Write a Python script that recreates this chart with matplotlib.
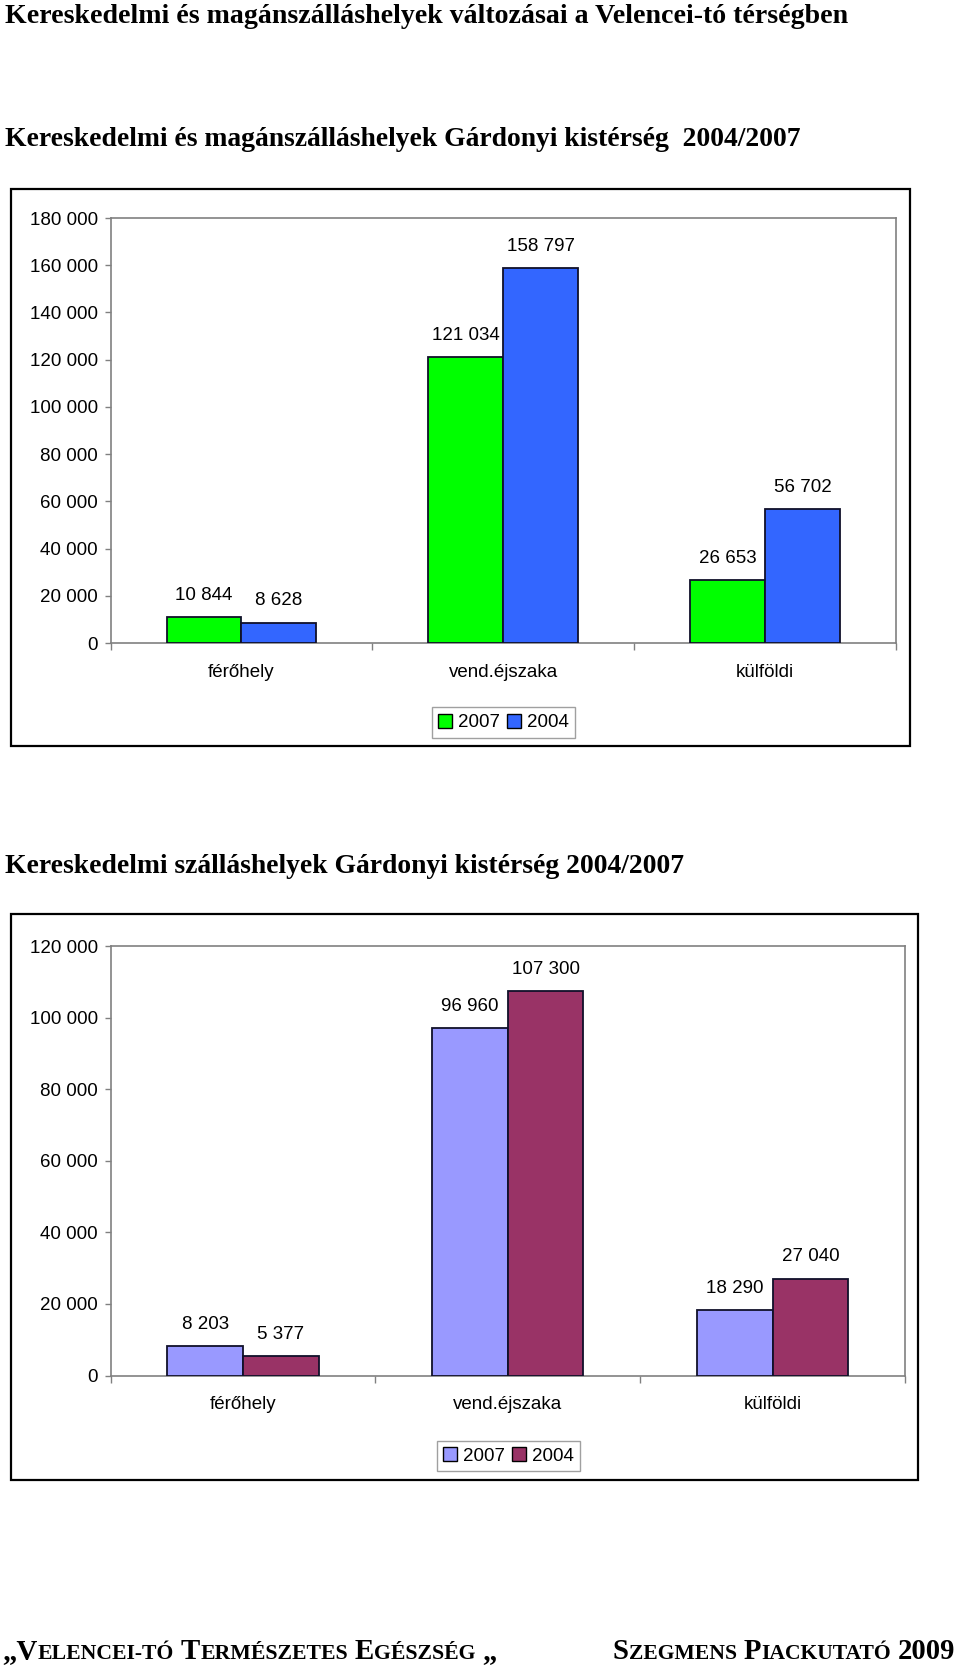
import matplotlib
matplotlib.use("Agg")
import matplotlib.pyplot as plt
from matplotlib.patches import Rectangle, Patch
from matplotlib.ticker import FuncFormatter, MultipleLocator
import numpy as np

# Data
categories = ["férőhely", "vend.éjszaka", "külföldi"]
years = ["2007", "2004"]

all_2007 = [10844, 121034, 26653]
all_2004 = [8628, 158797, 56702]

comm_2007 = [8203, 96960, 18290]
comm_2004 = [5377, 107300, 27040]

title_main = "Kereskedelmi és magánszálláshelyek változásai a Velencei-tó térségben"
title_1 = "Kereskedelmi és magánszálláshelyek Gárdonyi kistérség  2004/2007"
title_2 = "Kereskedelmi szálláshelyek Gárdonyi kistérség 2004/2007"

W, H = 960, 1667
fig = plt.figure(figsize=(W / 100, H / 100), dpi=100)
renderer = fig.canvas.get_renderer()

SERIF = "Liberation Serif"
SANS = "Liberation Sans"
GRAY = "#808080"


def fx(px):
    return px / W


def fy(py):
    return 1 - py / H


def fit_text(x, y, s, target_w, size=20, **kw):
    t = fig.text(fx(x), fy(y), s, fontsize=size, va="baseline", ha="left",
                 family=SERIF, fontweight="bold", **kw)
    w = t.get_window_extent(renderer).width
    t.set_fontsize(size * target_w / w)
    return t


def smallcaps(x, y, parts, target_w, big=20.5, small=15.5, gap=7):
    # parts: list of words, each a list of (text, is_big)
    def draw(scale):
        texts = []
        cx = x
        for word in parts:
            for s, is_big in word:
                t = fig.text(fx(cx), fy(y), s, fontsize=(big if is_big else small) * scale,
                             va="baseline", ha="left", family=SERIF, fontweight="bold")
                texts.append(t)
                cx += t.get_window_extent(renderer).width
            cx += gap * scale
        return texts, cx - gap * scale - x
    texts, width = draw(1.0)
    for t in texts:
        t.remove()
    draw(target_w / width)


def box(x0, y0, x1, y1):
    fig.patches.append(Rectangle((fx(x0), fy(y1)), fx(x1 - x0), (y1 - y0) / H,
                                 transform=fig.transFigure, fill=False,
                                 edgecolor="black", linewidth=1.6, zorder=0))


def thousands(v, pos=None):
    return f"{int(v):,}".replace(",", " ")


def bar_chart(left, top, right, bottom, v07, v04, c07, c04, ymax, leg_center):
    ax = fig.add_axes([fx(left), fy(bottom), fx(right - left), (bottom - top) / H])
    x = np.arange(len(categories))
    w = 1 / 3.5
    b1 = ax.bar(x - w / 2, v07, w, color=c07, edgecolor="#10102a", linewidth=1.3, zorder=3)
    b2 = ax.bar(x + w / 2, v04, w, color=c04, edgecolor="#10102a", linewidth=1.3, zorder=3)
    for bars, vals in ((b1, v07), (b2, v04)):
        for r, v in zip(bars, vals):
            ax.annotate(thousands(v), (r.get_x() + r.get_width() / 2, v),
                        xytext=(0, 22), textcoords="offset pixels",
                        ha="center", va="center", fontsize=13.5, family=SANS)
    ax.set_xlim(-0.5, len(categories) - 0.5)
    ax.set_ylim(0, ymax)
    ax.yaxis.set_major_locator(MultipleLocator(20000))
    ax.yaxis.set_major_formatter(FuncFormatter(thousands))
    ax.set_xticks(x)
    ax.set_xticklabels(categories)
    ax.set_xticks(np.arange(len(categories) + 1) - 0.5, minor=True)
    ax.tick_params(axis="x", which="major", length=0, pad=15, labelsize=13.5)
    ax.tick_params(axis="x", which="minor", length=5, color=GRAY, width=1)
    ax.tick_params(axis="y", length=4.5, color=GRAY, width=1, pad=4.5, labelsize=13.5)
    for lab in ax.get_xticklabels() + ax.get_yticklabels():
        lab.set_family(SANS)
    for sp in ax.spines.values():
        sp.set_color(GRAY)
        sp.set_linewidth(1.2)
    handles = [Patch(facecolor=c07, edgecolor="black", label=years[0]),
               Patch(facecolor=c04, edgecolor="black", label=years[1])]
    fig.legend(handles=handles, loc="center", ncol=2,
               bbox_to_anchor=(fx(leg_center[0]), fy(leg_center[1])),
               prop={"family": SANS, "size": 13.5}, frameon=True, fancybox=False,
               edgecolor="#a0a0a0", framealpha=1, borderpad=0.35,
               handlelength=0.75, handleheight=0.75, handletextpad=0.3,
               columnspacing=0.4, borderaxespad=0)
    return ax


# Titles
fit_text(5, 23, title_main, 843)
fit_text(5, 146, title_1, 798)
fit_text(5, 873, title_2, 681)

# Chart 1
box(11, 189, 910, 746)
bar_chart(110.5, 218, 896, 643, all_2007, all_2004, "#00ff00", "#3366ff", 180000, (503.5, 722.5))

# Chart 2
box(11, 914, 918, 1480)
bar_chart(110.5, 946, 905, 1375.5, comm_2007, comm_2004, "#9999ff", "#993366", 120000, (508.5, 1456))

# Footer
smallcaps(2, 1659, [[("„V", True), ("ELENCEI-TÓ", False)],
                    [("T", True), ("ERMÉSZETES", False)],
                    [("E", True), ("GÉSZSÉG", False)],
                    [("„", True)]], 494)
smallcaps(613, 1659, [[("S", True), ("ZEGMENS", False)],
                      [("P", True), ("IACKUTATÓ", False)],
                      [("2009", True)]], 342)

fig.savefig("out.png", dpi=100)
